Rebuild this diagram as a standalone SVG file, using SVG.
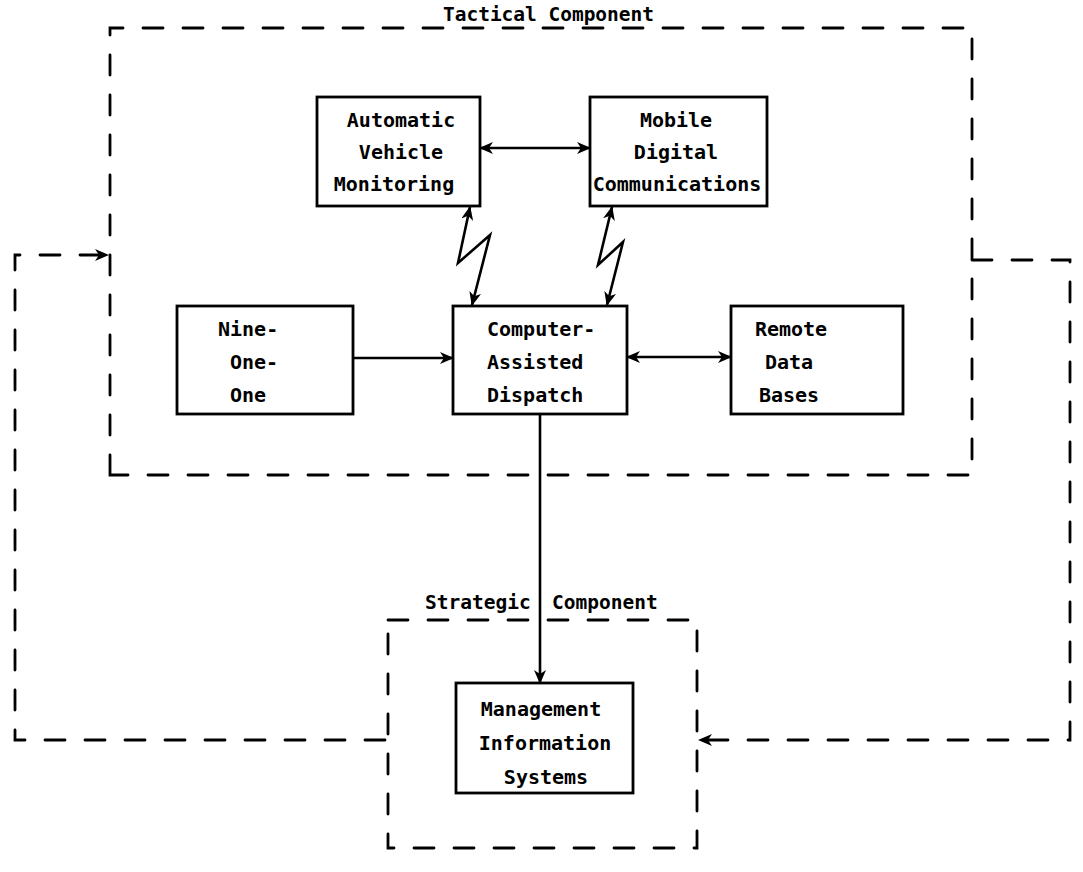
<svg xmlns="http://www.w3.org/2000/svg" width="1083" height="872" viewBox="0 0 1083 872">
  <style>
    .box { fill: #fff; stroke: #000; stroke-width: 2.8; }
    .dash { fill: none; stroke: #000; stroke-width: 2.8; stroke-dasharray: 20 20; stroke-linecap: round; }
    .line { fill: none; stroke: #000; stroke-width: 2.6; }
    .lbl { font-family: "DejaVu Sans Mono", monospace; font-weight: bold; font-size: 20px; fill: #000; }
    .ttl { font-family: "DejaVu Sans Mono", monospace; font-weight: bold; font-size: 19.5px; fill: #000; }
  </style>
  <defs>
    <marker id="ah" viewBox="0 0 14 12" refX="13" refY="6" markerWidth="14" markerHeight="12" markerUnits="userSpaceOnUse" orient="auto-start-reverse">
      <path d="M0,0 L14,6 L0,12 L4,6 Z" fill="#000"/>
    </marker>
  </defs>
  <rect width="1083" height="872" fill="#fff"/>

  <!-- component frames -->
  <g id="frames">
    <path class="dash" d="M110,475 L110,28 L972,28 L972,475 Z"/>
    <path class="dash" d="M388,620 L697,620 L697,848 L388,848 Z"/>
    <text class="ttl" x="443" y="21" textLength="211">Tactical Component</text>
    <text class="ttl" x="425" y="609">Strategic</text>
    <text class="ttl" x="552" y="609">Component</text>
  </g>

  <g id="connectors">
    <!-- feedback loops between the components -->
    <path class="dash" d="M385,740 L15,740 L15,255 L108,255" marker-end="url(#ah)"/>
    <path class="dash" d="M972,260 L1070,260 L1070,740 L699,740" marker-end="url(#ah)"/>
    <line class="line" x1="480" y1="148" x2="590" y2="148" marker-start="url(#ah)" marker-end="url(#ah)"/>
    <line class="line" x1="353" y1="358" x2="453" y2="358" marker-end="url(#ah)"/>
    <line class="line" x1="627" y1="357" x2="731" y2="357" marker-start="url(#ah)" marker-end="url(#ah)"/>
    <!-- radio links -->
    <polyline class="line" points="470,207 458,263 490,235 472,305" marker-start="url(#ah)" marker-end="url(#ah)"/>
    <polyline class="line" points="612,207 598,265 623,242 607,305" marker-start="url(#ah)" marker-end="url(#ah)"/>
    <line class="line" x1="540" y1="414" x2="540" y2="683" marker-end="url(#ah)"/>
  </g>

  <g id="avm">
    <rect class="box" x="317" y="97" width="163" height="109"/>
    <text class="lbl" x="401" y="127" text-anchor="middle">Automatic</text>
    <text class="lbl" x="401" y="159" text-anchor="middle">Vehicle</text>
    <text class="lbl" x="394" y="191" text-anchor="middle">Monitoring</text>
  </g>
  <g id="mdc">
    <rect class="box" x="590" y="97" width="177" height="109"/>
    <text class="lbl" x="676" y="127" text-anchor="middle">Mobile</text>
    <text class="lbl" x="676" y="159" text-anchor="middle">Digital</text>
    <text class="lbl" x="677" y="191" text-anchor="middle">Communications</text>
  </g>
  <g id="nine-one-one">
    <rect class="box" x="177" y="306" width="176" height="108"/>
    <text class="lbl" x="218" y="336">Nine-</text>
    <text class="lbl" x="230" y="369">One-</text>
    <text class="lbl" x="230" y="402">One</text>
  </g>
  <g id="cad">
    <rect class="box" x="453" y="306" width="174" height="108"/>
    <text class="lbl" x="487" y="336">Computer-</text>
    <text class="lbl" x="487" y="369">Assisted</text>
    <text class="lbl" x="487" y="402">Dispatch</text>
  </g>
  <g id="remote">
    <rect class="box" x="731" y="306" width="172" height="108"/>
    <text class="lbl" x="791" y="336" text-anchor="middle">Remote</text>
    <text class="lbl" x="789" y="369" text-anchor="middle">Data</text>
    <text class="lbl" x="789" y="402" text-anchor="middle">Bases</text>
  </g>
  <g id="mis">
    <rect class="box" x="456" y="683" width="177" height="110"/>
    <text class="lbl" x="541" y="716" text-anchor="middle">Management</text>
    <text class="lbl" x="545" y="750" text-anchor="middle">Information</text>
    <text class="lbl" x="546" y="784" text-anchor="middle">Systems</text>
  </g>
</svg>
